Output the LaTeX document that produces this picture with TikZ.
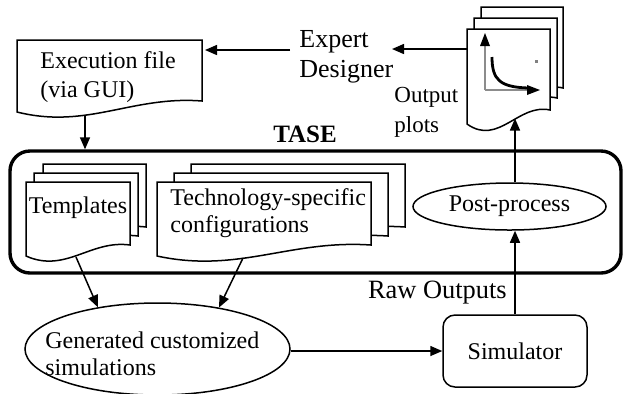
\documentclass[tikz,border=0pt]{standalone}
\usepackage{fontspec}
\setmainfont{Liberation Serif}
\usetikzlibrary{arrows.meta,shapes.geometric,calc}
\tikzset{
  docline/.style={draw=black, fill=white, line width=0.75pt},
  conn/.style={draw=black, line width=0.75pt, -{Triangle[length=6pt,width=5pt]}},
  lbl/.style={inner sep=0pt, align=left},
  shapeline/.style={draw=black, line width=0.75pt},
}
% l, t, r, bottom-left, bottom-right
\newcommand\docshape[5]{%
  \pgfmathsetmacro\dsA{#1+0.62*(#3-#1)}%
  \pgfmathsetmacro\dsB{#1+0.38*(#3-#1)}%
  \pgfmathsetmacro\dsC{#5-0.5*(#4-#5)}%
  \pgfmathsetmacro\dsD{#4+1.6*(#4-#5)}%
  \path[docline] (#1,#2) -- (#3,#2) -- (#3,#5) .. controls (\dsA,\dsC) and (\dsB,\dsD) .. (#1,#4) -- cycle;}
\begin{document}
\begin{tikzpicture}[x=0.5pt,y=-0.5pt,font=\fontsize{12}{14}\selectfont]
\useasboundingbox (0,0) rectangle (624,393);

% TASE frame
\node[draw, rounded corners=10pt, line width=1.7pt, minimum width=305.5pt, minimum height=61pt, inner sep=0pt] (tase) at (315.5,212) {};
\node[font=\fontsize{12.5}{14}\selectfont\bfseries, inner sep=0pt] (tasel) at (305,134) {TASE};

% Execution file
\docshape{17}{40}{202}{112}{101}
\node[lbl, font=\fontsize{12}{14.5}\selectfont, anchor=west] (exect) at (40,77.5) {Execution file\\(via GUI)};

% Expert designer
\node[lbl, font=\fontsize{13}{15}\selectfont, anchor=west] (expert) at (299,57) {Expert\\Designer};

% Output plots stack
\docshape{481}{7}{563}{104}{88}
\docshape{474}{18}{557}{114}{98}
\docshape{467}{29}{550}{124}{110}
\draw[black!45, line width=1.3pt] (485,90) -- (485,44);
\draw[black!45, line width=1.3pt] (485,90) -- (529,90);
\fill[black] (485,33) -- (480,46) -- (490,46) -- cycle;
\fill[black] (540,90) -- (527,85) -- (527,95) -- cycle;
\draw[black, line width=1.4pt] (492,57) .. controls (492,80) and (500,87) .. (528,88);
\fill[black!50] (534.5,59.5) rectangle (537.5,62.5);
\node[lbl, font=\fontsize{11.5}{15}\selectfont, anchor=west] (plotsl) at (394,112) {Output\\plots};

% Templates stack
\docshape{43}{164}{146}{238}{227}
\docshape{34}{173}{138}{247}{236}
\docshape{26}{182}{130}{256}{245}
\node[lbl] (tplt) at (78,208) {Templates};

% Technology-specific stack
\docshape{191}{164}{405}{238}{227}
\docshape{174}{173}{388}{247}{236}
\docshape{157}{182}{371}{256}{245}
\node[lbl, font=\fontsize{12}{13.5}\selectfont, anchor=west] (techt) at (170,213.5) {Technology-specific\\configurations};

% Post-process
\node[shapeline, ellipse, minimum width=96.5pt, minimum height=23.5pt, inner sep=0pt] (post) at (509.5,206.5) {Post-process};

% Simulator
\node[shapeline, rounded corners=6pt, minimum width=72pt, minimum height=36pt, inner sep=0pt] (sim) at (515,351) {Simulator};
\node[lbl, font=\fontsize{13.2}{15}\selectfont, anchor=east] (raw) at (507,293) {Raw Outputs};

% Generated
\node[shapeline, ellipse, minimum width=132.5pt, minimum height=46pt, inner sep=0pt] (gen) at (157.5,349) {};
\node[lbl, font=\fontsize{12}{13.5}\selectfont, anchor=west] (gent) at (45,353.5) {Generated customized\\simulations};

% connector end points
\coordinate (execin) at (205,50);
\coordinate (expertout) at (290,50);
\coordinate (expertin) at (392,49);
\coordinate (plotsout) at (467,49);
\coordinate (execout) at (85,116);
\coordinate (plotsin) at (515,118.5);
\coordinate (tplout) at (76,257);
\coordinate (techout) at (243,258);

% connectors
\draw[conn] (expertout) -- (execin);
\draw[conn] (plotsout) -- (expertin);
\draw[conn] (execout) -- (execout |- tase.north);
\draw[conn] (tplout) -- (gen.145);
\draw[conn] (techout) -- (gen.34);
\draw[conn] (gen.east |- sim.west) -- (sim.west);
\draw[conn] (sim.north) -- (sim.north |- post.south);
\draw[conn] (sim.north |- post.north) -- (plotsin);
\end{tikzpicture}
\end{document}
